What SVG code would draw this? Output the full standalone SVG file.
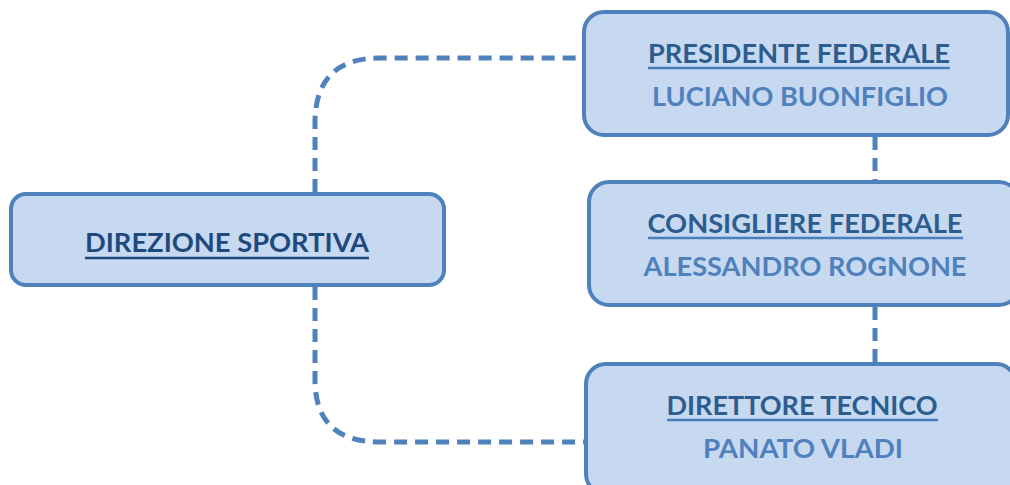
<svg xmlns="http://www.w3.org/2000/svg" width="1010" height="485" viewBox="0 0 1010 485">
<style>
.box{fill:#C6D9F1;stroke:#4F81BD;stroke-width:4}
.t{font-family:Lato,"Open Sans","Liberation Sans",sans-serif;font-weight:bold;font-size:27px;text-anchor:middle}
.head{fill:#2D5C8F}
.main{fill:#1F497D}
.name{fill:#4F81BD}
.ul{stroke-width:2.5}
.conn{fill:none;stroke:#4F81BD;stroke-width:5;stroke-dasharray:13 8}
</style>
<rect width="1010" height="485" fill="#FFFFFF"/>
<g id="connectors">
<path class="conn" d="M315,192 V123 Q315,58 380,58 H584"/>
<path class="conn" d="M315,287 V380 Q315,442 380,442 H584"/>
<path class="conn" d="M875,137 V180"/>
<path class="conn" d="M875,307 V362"/>
</g>
<g id="direzione-sportiva">
<rect class="box" x="11" y="194" width="433" height="91" rx="15"/>
<text class="t main" x="227" y="252" textLength="284" lengthAdjust="spacingAndGlyphs">DIREZIONE SPORTIVA</text>
<line class="ul" x1="85" y1="258" x2="369" y2="258" stroke="#1F497D"/>
</g>
<g id="presidente-federale">
<rect class="box" x="584" y="12" width="424" height="123" rx="20"/>
<text class="t head" x="799" y="63" textLength="302" lengthAdjust="spacingAndGlyphs">PRESIDENTE FEDERALE</text>
<line class="ul" x1="648" y1="68" x2="950" y2="68" stroke="#4A7EBB"/>
<text class="t name" x="800" y="106" textLength="296" lengthAdjust="spacingAndGlyphs">LUCIANO BUONFIGLIO</text>
</g>
<g id="consigliere-federale">
<rect class="box" x="589" y="182" width="430" height="123" rx="20"/>
<text class="t head" x="805" y="233" textLength="315" lengthAdjust="spacingAndGlyphs">CONSIGLIERE FEDERALE</text>
<line class="ul" x1="648" y1="238" x2="963" y2="238" stroke="#4A7EBB"/>
<text class="t name" x="805" y="276" textLength="323" lengthAdjust="spacingAndGlyphs">ALESSANDRO ROGNONE</text>
</g>
<g id="direttore-tecnico">
<rect class="box" x="586" y="364" width="430" height="130" rx="20"/>
<text class="t head" x="802" y="415" textLength="271" lengthAdjust="spacingAndGlyphs">DIRETTORE TECNICO</text>
<line class="ul" x1="667" y1="420" x2="938" y2="420" stroke="#4A7EBB"/>
<text class="t name" x="803" y="458" textLength="200" lengthAdjust="spacingAndGlyphs">PANATO VLADI</text>
</g>
</svg>
